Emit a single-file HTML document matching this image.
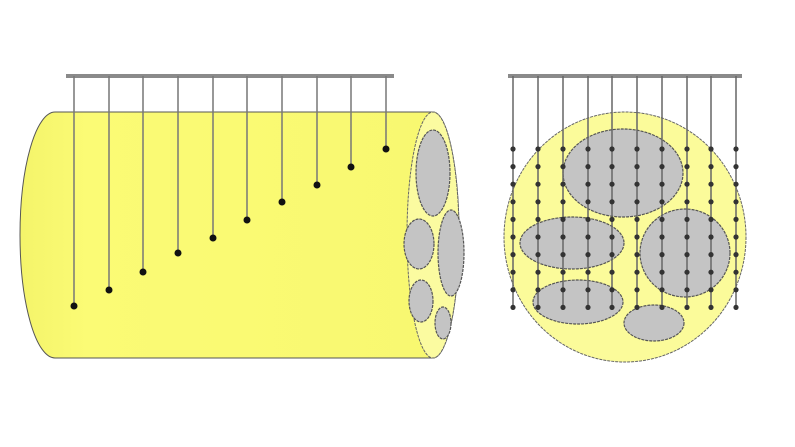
<!DOCTYPE html>
<html><head><style>body{margin:0;background:#fff}svg{display:block}</style></head>
<body>
<svg width="795" height="447" viewBox="0 0 795 447">
<defs>
<linearGradient id="g" x1="0" x2="1"><stop offset="0" stop-color="#f4f46a"/><stop offset="0.15" stop-color="#fbfb75"/><stop offset="1" stop-color="#f8f870"/></linearGradient>
<g id="c" fill="#333">
<circle cx="0" cy="149" r="2.6"/><circle cx="0" cy="166.6" r="2.6"/><circle cx="0" cy="184.2" r="2.6"/>
<circle cx="0" cy="201.8" r="2.6"/><circle cx="0" cy="219.4" r="2.6"/><circle cx="0" cy="237" r="2.6"/>
<circle cx="0" cy="254.6" r="2.6"/><circle cx="0" cy="272.2" r="2.6"/><circle cx="0" cy="289.8" r="2.6"/>
<circle cx="0" cy="307.4" r="2.6"/>
</g>
</defs>
<path d="M433,112 L55,112 A35,123 0 0 0 55,358 L433,358 A26,123 0 0 0 433,112 Z" fill="url(#g)" stroke="#555" stroke-width="1"/>
<ellipse cx="433" cy="235" rx="26" ry="123" fill="#fbfba0" stroke="#666" stroke-width="1" stroke-dasharray="3,1"/>
<g fill="#c4c4c4" stroke="#555" stroke-width="1.2" stroke-dasharray="3,1">
<ellipse cx="433" cy="173" rx="17" ry="43"/>
<ellipse cx="419" cy="244" rx="15" ry="25"/>
<ellipse cx="451" cy="253" rx="13" ry="43"/>
<ellipse cx="421" cy="301" rx="12" ry="21"/>
<ellipse cx="443" cy="323" rx="8" ry="16"/>
</g>
<rect x="66" y="74" width="328" height="4" fill="#8a8a8a"/>
<g stroke="#777" stroke-width="1.5">
<line x1="74" y1="76" x2="74" y2="306"/><line x1="109" y1="76" x2="109" y2="290"/>
<line x1="143" y1="76" x2="143" y2="272"/><line x1="178" y1="76" x2="178" y2="253"/>
<line x1="213" y1="76" x2="213" y2="238"/><line x1="247" y1="76" x2="247" y2="220"/>
<line x1="282" y1="76" x2="282" y2="202"/><line x1="317" y1="76" x2="317" y2="185"/>
<line x1="351" y1="76" x2="351" y2="167"/><line x1="386" y1="76" x2="386" y2="149"/>
</g>
<g fill="#111">
<circle cx="74" cy="306" r="3.5"/><circle cx="109" cy="290" r="3.5"/><circle cx="143" cy="272" r="3.5"/>
<circle cx="178" cy="253" r="3.5"/><circle cx="213" cy="238" r="3.5"/><circle cx="247" cy="220" r="3.5"/>
<circle cx="282" cy="202" r="3.5"/><circle cx="317" cy="185" r="3.5"/><circle cx="351" cy="167" r="3.5"/>
<circle cx="386" cy="149" r="3.5"/>
</g>
<ellipse cx="625" cy="237" rx="121" ry="125" fill="#fbfb9a" stroke="#666" stroke-width="1" stroke-dasharray="3,1"/>
<g fill="#c4c4c4" stroke="#555" stroke-width="1.2" stroke-dasharray="3,1">
<ellipse cx="623" cy="173" rx="60" ry="44"/>
<ellipse cx="572" cy="243" rx="52" ry="26"/>
<ellipse cx="685" cy="253" rx="45" ry="44"/>
<ellipse cx="578" cy="302" rx="45" ry="22"/>
<ellipse cx="654" cy="323" rx="30" ry="18"/>
</g>
<rect x="508" y="74" width="234" height="4" fill="#8a8a8a"/>
<g stroke="#666" stroke-width="1.5">
<line x1="513" y1="76" x2="513" y2="308"/><line x1="538" y1="76" x2="538" y2="308"/>
<line x1="563" y1="76" x2="563" y2="308"/><line x1="588" y1="76" x2="588" y2="308"/>
<line x1="612" y1="76" x2="612" y2="308"/><line x1="637" y1="76" x2="637" y2="308"/>
<line x1="662" y1="76" x2="662" y2="308"/><line x1="687" y1="76" x2="687" y2="308"/>
<line x1="711" y1="76" x2="711" y2="308"/><line x1="736" y1="76" x2="736" y2="308"/>
</g>
<use href="#c" x="513"/><use href="#c" x="538"/><use href="#c" x="563"/><use href="#c" x="588"/>
<use href="#c" x="612"/><use href="#c" x="637"/><use href="#c" x="662"/><use href="#c" x="687"/>
<use href="#c" x="711"/><use href="#c" x="736"/>
</svg>
</body></html>
